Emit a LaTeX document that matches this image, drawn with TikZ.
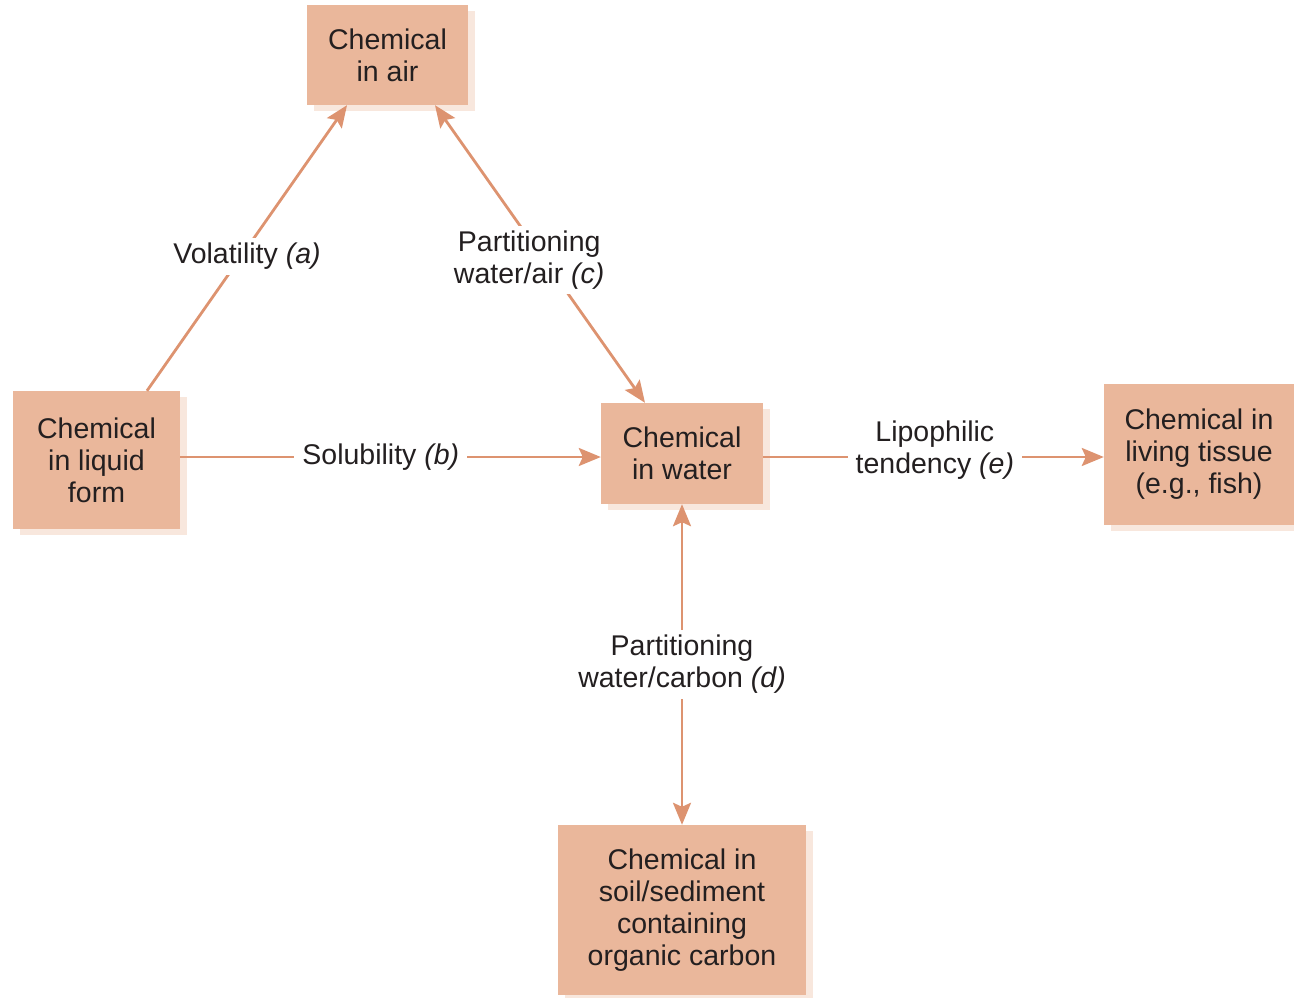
\documentclass[tikz,border=0pt]{standalone}
\usepackage{fontspec}
\setmainfont{Liberation Sans}
\usetikzlibrary{arrows.meta}
\definecolor{boxfill}{HTML}{EAB79B}
\definecolor{shadowc}{HTML}{F8E7DD}
\definecolor{arrowc}{HTML}{DD9370}
\definecolor{txt}{HTML}{231F20}
\tikzset{
  box/.style={fill=boxfill, text=txt, align=center, inner sep=0pt,
    font=\fontsize{28.5}{32}\selectfont,
    preaction={fill=shadowc, transform canvas={shift={(7pt,-6pt)}}}},
  conn/.style={draw=arrowc, line width=2.8pt},
  tip/.style={-{Stealth[length=22pt,width=18pt,inset=4pt]}},
  tips/.style={{Stealth[length=22pt,width=18pt,inset=4pt]}-{Stealth[length=22pt,width=18pt,inset=4pt]}},
  lbl/.style={fill=white, text=txt, align=center, inner xsep=8pt, inner ysep=5pt,
    font=\fontsize{28.5}{32}\selectfont}
}
\begin{document}
\begin{tikzpicture}[x=1pt,y=-1pt]
\useasboundingbox (0,0) rectangle (1294,998);
\node[box, minimum width=161pt, minimum height=100pt] (air) at (387.5,55) {Chemical\\in air};
\node[box, minimum width=167pt, minimum height=138pt] (liq) at (96.5,460) {Chemical\\in liquid\\form};
\node[box, minimum width=162pt, minimum height=101pt] (water) at (682,453.5) {Chemical\\in water};
\node[box, minimum width=190pt, minimum height=141pt] (tissue) at (1199,454.5) {Chemical in\\living tissue\\(e.g., fish)\\[-26pt]\mbox{}};
\node[box, minimum width=248pt, minimum height=170pt] (soil) at (682,910) {Chemical in\\soil/sediment\\containing\\organic carbon};

\draw[conn,tip] ([xshift=50.5pt]liq.north) -- node[lbl,pos=0.47,xshift=6pt]{Volatility \textit{(a)}} ([xshift=-40.5pt]air.south);
\draw[conn,tips] ([xshift=47.5pt]air.south) -- node[lbl,pos=0.52,xshift=-15pt]{Partitioning\\water/air \textit{(c)}} ([xshift=-37pt]water.north);
\draw[conn,tip] ([yshift=-3.5pt]liq.east |- water.west) -- node[lbl,pos=0.477]{Solubility \textit{(b)}} ([yshift=-3.5pt]water.west);
\draw[conn,tip] ([yshift=-3.5pt]water.east) -- node[lbl,pos=0.504,yshift=7pt]{Lipophilic\\tendency \textit{(e)}} ([yshift=-3.5pt]tissue.west |- water.east);
\draw[conn,tips] (water.south) -- node[lbl,pos=0.5]{Partitioning\\water/carbon \textit{(d)}} (soil.north);
\end{tikzpicture}
\end{document}
